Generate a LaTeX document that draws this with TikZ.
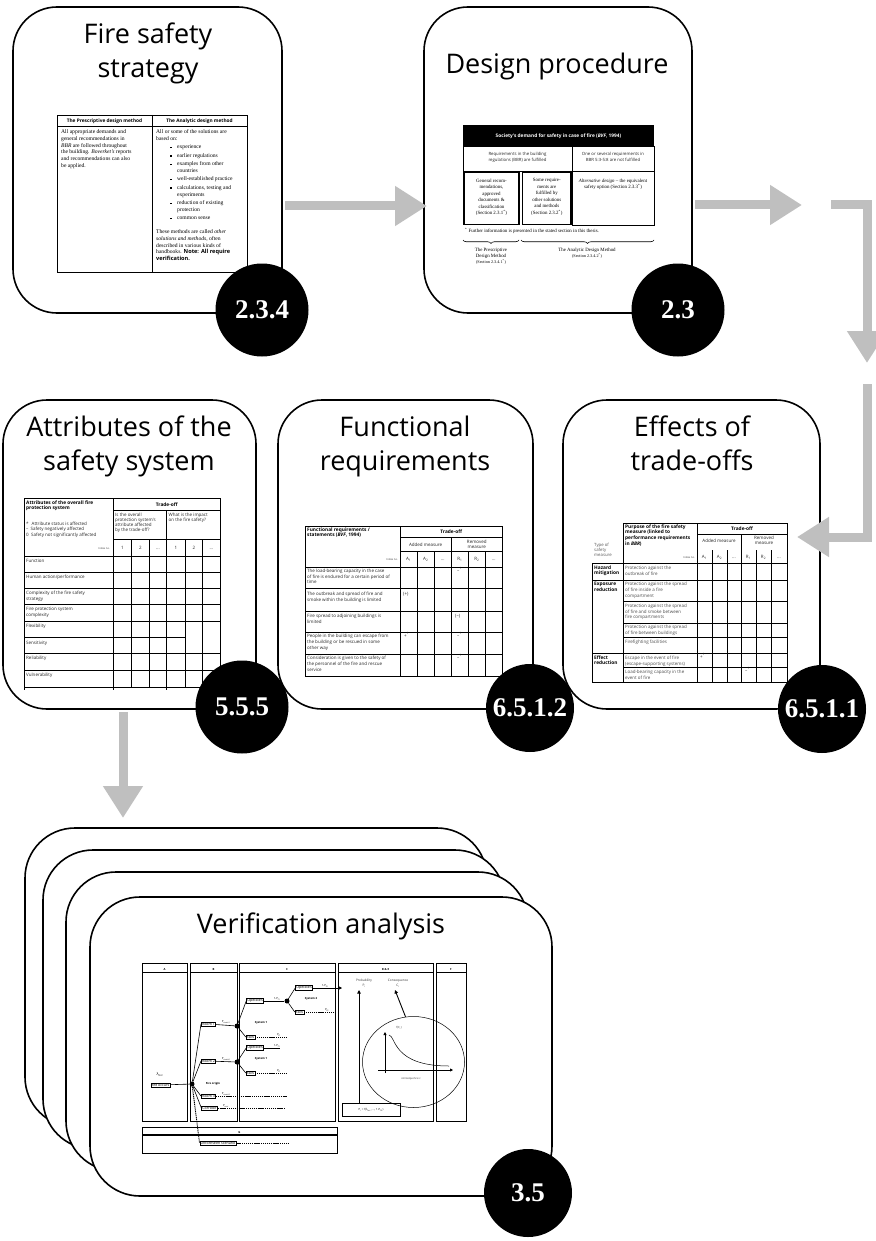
\documentclass[tikz,border=0pt]{standalone}
\usepackage{fontspec}
\setmainfont{Liberation Serif}
\setsansfont{Open Sans}
\usetikzlibrary{arrows.meta,decorations.pathreplacing,shapes.geometric}
\newcommand{\zzTitle}{\sffamily\fontsize{27}{32}\selectfont}
\newcommand{\zzBadge}{\rmfamily\bfseries\fontsize{27}{30}\selectfont}
\newcommand{\zzSer}{\rmfamily\fontsize{5.6}{6.8}\selectfont}
\newcommand{\zzSerS}{\rmfamily\fontsize{4.9}{6.5}\selectfont}
\newcommand{\zzHd}{\sffamily\bfseries\fontsize{4.8}{5.5}\selectfont}
\newcommand{\zzTx}{\sffamily\fontsize{4.5}{5.9}\selectfont}
\newcommand{\zzTi}{\sffamily\fontsize{2.6}{3}\selectfont}
\newcommand{\zzEv}{\sffamily\fontsize{3.6}{4}\selectfont}
\newcommand{\zzEl}{\sffamily\fontsize{2.8}{3.2}\selectfont}
\newcommand{\zzBl}{\hspace*{14pt}\makebox[7pt][l]{\rule[0.6pt]{1.3pt}{1.3pt}}}
\newcommand{\zzIn}{\hspace*{21pt}}
\begin{document}
\begin{tikzpicture}[x=1pt,y=-1pt,
  box/.style={draw, line width=1.6pt, fill=white, rounded corners=44pt, inner sep=0pt, outer sep=0pt, anchor=north west},
  vbox/.style={box, rounded corners=50pt, minimum width=462pt, minimum height=299pt},
  ttl/.style={inner sep=0pt, anchor=base, font=\zzTitle},
  badge/.style={circle, fill=black, text=white, inner sep=0pt, minimum size=90pt, font=\zzBadge},
  garrow/.style={line width=9pt, draw=black!25, line join=miter, -{Triangle[length=32pt,width=38pt]}},
  tl/.style={line width=0.5pt},
  tk/.style={line width=1.8pt},
  tx/.style={inner sep=0pt, anchor=base west, text=black!85, font=\zzTx},
  tc/.style={inner sep=0pt, anchor=base, text=black!85, font=\zzTx},
  th/.style={inner sep=0pt, anchor=base west, font=\zzHd},
  tn/.style={inner sep=0pt, anchor=base east, font=\zzTi, text=black!80},
  evb/.style={draw, line width=0.7pt, fill=white, inner sep=0.7pt, font=\zzEv},
  dot/.style={circle, fill=black, inner sep=0pt, minimum size=5pt},
  el/.style={line width=0.6pt},
  ed/.style={line width=0.9pt, dash pattern=on 1.2pt off 0.7pt},
  lb/.style={inner sep=0pt, anchor=base, font=\zzEl},
  brc/.style={line width=0.6pt, decorate, decoration={brace, amplitude=3.5pt, mirror}},
  vl/.style={line width=0.7pt}]
\useasboundingbox (0,0) rectangle (875,1241);

% ---------------- Row 1 boxes ----------------
\node[box, minimum width=269pt, minimum height=306pt] (b1) at (13,7) {};
\node[box, minimum width=268pt, minimum height=306pt] (b2) at (424,7) {};
\node[ttl] (b1t1) at (148,44) {Fire safety};
\node[ttl] (b1t2) at (148,78) {strategy};
\node[ttl] (b2t1) at (557,74) {Design procedure};

% Table 1
\draw[tl] (57,115) rectangle (247,272);
\draw[tl] (57,126) -- (247,126);
\draw[tl] (152,115) -- (152,272);
\node[inner sep=0pt, anchor=base, font=\zzHd] (t1h1) at (104.5,123) {The Prescriptive design method};
\node[inner sep=0pt, anchor=base, font=\zzHd] (t1h2) at (199.5,123) {The Analytic design method};
\node[inner sep=0pt, anchor=north west, align=left, font=\zzSer] (t1l) at (61,129.5) {All appropriate demands and\\ general recommendations in\\ \textit{BBR} are followed throughout\\ the building. \textit{Boverket's} reports\\ and recommendations can also\\ be applied.};
\node[inner sep=0pt, anchor=north west, align=left, font=\zzSer] (t1r) at (156,129.5) {All or some of the solutions are\\ based on:\\[1.6pt]
\zzBl experience\\[1.6pt]
\zzBl earlier regulations\\[1.6pt]
\zzBl examples from other\\
\zzIn countries\\[1.6pt]
\zzBl well-established practice\\[1.6pt]
\zzBl calculations, testing and\\
\zzIn experiments\\[1.6pt]
\zzBl reduction of existing\\
\zzIn protection\\[1.6pt]
\zzBl common sense\\[7pt]
These methods are called \textit{other}\\
\textit{solutions and methods}, often\\
described in various kinds of\\
handbooks. {\sffamily\bfseries Note: All require}\\
{\sffamily\bfseries verification.}};

% Table 2
\fill (463,125) rectangle (654,146);
\node[inner sep=0pt, anchor=base, text=white, font=\zzHd] (t2h) at (558.5,137.5) {Society's demand for safety in case of fire (\textit{BVF}, 1994)};
\draw[tl] (463,146) rectangle (654,171);
\draw[tl] (572,146) -- (572,171);
\node[inner sep=0pt, anchor=north, align=center, font=\sffamily\fontsize{4.3}{6.2}\selectfont, text=black!85] (t2a) at (517.5,152) {Requirements in the building\\ regulations (BBR) are fulfilled};
\node[inner sep=0pt, anchor=north, align=center, font=\sffamily\fontsize{4.3}{6.2}\selectfont, text=black!85] (t2b) at (613,152) {One or several requirements in\\ BBR 5:3-5:8 are not fulfilled};
\draw[tl] (572,171) rectangle (654,225);
\draw[tk] (464,172.5) rectangle (519,224.5);
\draw[tk] (522.5,172.5) rectangle (571,224.5);
\node[inner sep=0pt, anchor=north, align=center, font=\zzSerS] (t2c) at (491.5,178.5) {General recom-\\ mendations,\\ approved\\ documents \&\\ classification\\ (Section 2.3.1\textsuperscript{*})};
\node[inner sep=0pt, anchor=north, align=center, font=\zzSerS] (t2d) at (546.8,178.5) {Some require-\\ ments are\\ fulfilled by\\ other solutions\\ and methods\\ (Section 2.3.2\textsuperscript{*})};
\node[inner sep=0pt, anchor=north, align=center, font=\zzSerS] (t2e) at (613,178.5) {\textit{Alternative design} -- the equivalent\\ safety option (Section 2.3.3\textsuperscript{*})};
\node[inner sep=0pt, anchor=base west, font=\zzSerS] (t2f) at (465,233) {\textsuperscript{*} Further information is presented in the stated section in this thesis.};
\coordinate (br1a) at (463,240); \coordinate (br1b) at (519,240);
\coordinate (br2a) at (521,240); \coordinate (br2b) at (654,240);
\draw[brc] (br1a) -- (br1b);
\draw[brc] (br2a) -- (br2b);
\node[inner sep=0pt, anchor=north, align=center, font=\rmfamily\fontsize{4.9}{6}\selectfont] (t2g) at (491,248) {The Prescriptive\\ Design Method\\ {\fontsize{4.2}{6}\selectfont (Section 2.3.4.1\textsuperscript{*})}};
\node[inner sep=0pt, anchor=north, align=center, font=\rmfamily\fontsize{4.9}{6}\selectfont] (t2i) at (587,248) {The Analytic Design Method\\ {\fontsize{4.2}{6}\selectfont (Section 2.3.4.2\textsuperscript{*})}};

% ---------------- Row 2 boxes ----------------
\node[box, minimum width=253pt, minimum height=309pt] (b3) at (3,400) {};
\node[box, minimum width=255pt, minimum height=309pt] (b4) at (278,400) {};
\node[box, minimum width=257pt, minimum height=309pt] (b5) at (563,400) {};
\node[ttl] (b3t1) at (129,436) {Attributes of the};
\node[ttl] (b3t2) at (129,470) {safety system};
\node[ttl] (b4t1) at (405,436) {Functional};
\node[ttl] (b4t2) at (405,470) {requirements};
\node[ttl] (b5t1) at (692,436) {Effects of};
\node[ttl] (b5t2) at (692,470) {trade-offs};

% Attributes table
\draw[tl] (24,498) rectangle (220,687);
\draw[tl] (113.3,498) -- (113.3,690);
\draw[tl] (24,687) -- (24,690);
\draw[tl] (113.3,510) -- (220,510);
\draw[tl] (113.3,539) -- (220,539);
\draw[tl] (166.7,510) -- (166.7,690);
\foreach \yy in {556,572,588,604,621,653,670} \draw[tl] (24,\yy) -- (220,\yy);
\draw[tl] (24,637) -- (185,637);
\foreach \xx in {131.7,149.3,185,202.7} \draw[tl] (\xx,539) -- (\xx,687);
\node[th] (a1) at (26,504) {Attributes of the overall fire};
\node[th] (a2) at (26,509.5) {protection system};
\node[tx] (a3) at (26,525) {*\hspace{3pt}Attribute status is affected};
\node[tx] (a4) at (26,530.5) {--\hspace{2.2pt}Safety negatively affected};
\node[tx] (a5) at (26,536) {0\hspace{2.4pt}Safety not significantly affected};
\node[tn] (a6) at (110,549) {Index no.};
\node[inner sep=0pt, anchor=base, font=\zzHd] (a7) at (166.7,506) {Trade-off};
\node[inner sep=0pt, anchor=north west, align=left, font=\sffamily\fontsize{4.5}{4.9}\selectfont, text=black!85] (a8) at (115,513) {Is the overall\\ protection system's\\ attribute affected\\ by the trade-off?};
\node[inner sep=0pt, anchor=north west, align=left, font=\sffamily\fontsize{4.5}{4.9}\selectfont, text=black!85] (a9) at (168.5,513) {What is the impact\\ on the fire safety?};
\node[tc] (i1) at (122.5,549) {1};
\node[tc] (i2) at (140.5,549) {2};
\node[tc] (i3) at (158,549) {...};
\node[tc] (i4) at (176,549) {1};
\node[tc] (i5) at (194,549) {2};
\node[tc] (i6) at (211.3,549) {...};
\node[tx] (r1) at (26,562) {Function};
\node[tx] (r2) at (26,578.5) {Human action/performance};
\node[tx, anchor=north west, align=left] (r3) at (26,591) {Complexity of the fire safety\\ strategy};
\node[tx, anchor=north west, align=left] (r4) at (26,607) {Fire protection system\\ complexity};
\node[tx] (r5) at (26,627) {Flexibility};
\node[tx] (r6) at (26,644) {Sensitivity};
\node[tx] (r7) at (26,659.5) {Reliability};
\node[tx] (r8) at (26,676) {Vulnerability};

% Functional table
\draw[tl] (305,526) rectangle (502.3,676);
\draw[tl] (400,526) -- (400,676);
\draw[tl] (400,537) -- (502.3,537);
\draw[tl] (400,551) -- (502.3,551);
\draw[tl] (451.3,537) -- (451.3,676);
\foreach \yy in {567,588,611,632,654} \draw[tl] (305,\yy) -- (502.3,\yy);
\foreach \xx in {417.3,434.3,468.3,485.3} \draw[tl] (\xx,551) -- (\xx,676);
\node[th] (f1) at (307,531) {Functional requirements /};
\node[th] (f2) at (307,536.5) {statements (\textit{BVF}, 1994)};
\node[tn] (f3) at (398,560.5) {Index no.};
\node[inner sep=0pt, anchor=base, font=\zzHd] (f4) at (451.2,533.5) {Trade-off};
\node[tc] (f5) at (425.6,546) {Added measure};
\node[tc] (f6) at (476.8,543) {Removed};
\node[tc] (f7) at (476.8,548) {measure};
\node[tc] (fi1) at (408.6,560.5) {A\textsubscript{1}};
\node[tc] (fi2) at (425.8,560.5) {A\textsubscript{2}};
\node[tc] (fi3) at (442.8,560.5) {...};
\node[tc] (fi4) at (459.8,560.5) {R\textsubscript{1}};
\node[tc] (fi5) at (476.8,560.5) {R\textsubscript{2}};
\node[tc] (fi6) at (493.8,560.5) {...};
\node[tx, anchor=north west, align=left] (fr1) at (307,568.5) {The load-bearing capacity in the case\\ of fire is endured for a certain period of\\ time};
\node[tx, anchor=north west, align=left] (fr2) at (307,592) {The outbreak and spread of fire and\\ smoke within the building is limited};
\node[tx, anchor=north west, align=left] (fr3) at (307,614) {Fire spread to adjoining buildings is\\ limited};
\node[tx, anchor=north west, align=left] (fr4) at (307,634) {People in the building can escape from\\ the building or be rescued in some\\ other way};
\node[tx, anchor=north west, align=left] (fr5) at (307,656) {Consideration is given to the safety of\\ the personnel of the fire and rescue\\ service};
\node[tx] (fs1) at (457,572) {--\textsuperscript{1}};
\node[tx] (fs2) at (403,595) {(+)};
\node[tx] (fs3) at (455,617) {(--)};
\node[tx] (fs4) at (404,637) {+\textsuperscript{1}};
\node[tx] (fs5) at (457,637) {--\textsuperscript{1}};
\node[tx] (fs6) at (457,659) {--\textsuperscript{1}};

% Effects table
\draw[tl] (623,523) -- (787,523) -- (787,682) -- (592,682) -- (592,563) -- (787,563);
\draw[tl] (623,523) -- (623,682);
\draw[tl] (697,523) -- (697,682);
\draw[tl] (697,534) -- (787,534);
\draw[tl] (741,534) -- (741,682);
\foreach \xx in {712,727,756,771} \draw[tl] (\xx,550) -- (\xx,682);
\draw[tl] (592,580) -- (787,580);
\draw[tl] (592,653) -- (787,653);
\foreach \yy in {601,623,637,667} \draw[tl] (623,\yy) -- (787,\yy);
\node[th, anchor=north west, align=left, font=\sffamily\bfseries\fontsize{4.8}{5.6}\selectfont] (e1) at (625,524.5) {Purpose of the fire safety\\ measure (linked to\\ performance requirements\\ in \textit{BBR})};
\node[tn] (e2) at (695,558) {Index no.};
\node[inner sep=0pt, anchor=base, font=\zzHd] (e3) at (742,530.5) {Trade-off};
\node[tc] (e4) at (719,542.5) {Added measure};
\node[tc] (e5) at (764,539.5) {Removed};
\node[tc] (e6) at (764,544.5) {measure};
\node[tc] (ei1) at (704.5,558) {A\textsubscript{1}};
\node[tc] (ei2) at (719.5,558) {A\textsubscript{2}};
\node[tc] (ei3) at (734,558) {...};
\node[tc] (ei4) at (748.5,558) {R\textsubscript{1}};
\node[tc] (ei5) at (763.5,558) {R\textsubscript{2}};
\node[tc] (ei6) at (779,558) {...};
\node[tx, anchor=north west, align=left, text=black!65, font=\sffamily\fontsize{4.3}{5}\selectfont] (e7) at (594,543.5) {Type of\\ safety\\ measure};
\node[th, anchor=north west, align=left] (e8) at (594,565.5) {Hazard\\ mitigation};
\node[th, anchor=north west, align=left] (e9) at (594,582) {Exposure\\ reduction};
\node[th, anchor=north west, align=left] (e10) at (594,655.5) {Effect\\ reduction};
\node[tx, anchor=north west, align=left, text=black!70] (ep1) at (625,565.5) {Protection against the\\ outbreak of fire};
\node[tx, anchor=north west, align=left, text=black!70] (ep2) at (625,582) {Protection against the spread\\ of fire inside a fire\\ compartment};
\node[tx, anchor=north west, align=left, text=black!70] (ep3) at (625,603.5) {Protection against the spread\\ of fire and smoke between\\ fire compartments};
\node[tx, anchor=north west, align=left, text=black!70] (ep4) at (625,625) {Protection against the spread\\ of fire between buildings};
\node[tx, anchor=north west, align=left, text=black!70] (ep5) at (625,639.5) {Firefighting facilities};
\node[tx, anchor=north west, align=left, text=black!70] (ep6) at (625,655.5) {Escape in the event of fire\\ (escape-supporting systems)};
\node[tx, anchor=north west, align=left, text=black!70] (ep7) at (625,669.5) {Load-bearing capacity in the\\ event of fire};
\node[tx] (es1) at (700,658) {+\textsuperscript{1}};
\node[tx] (es2) at (745,672) {--\textsuperscript{1}};

% ---------------- Verification stack ----------------
\node[vbox] (v1) at (25,828) {};
\node[vbox] (v2) at (43,850) {};
\node[vbox] (v3) at (66,872) {};
\node[vbox] (v4) at (90,897) {};
\node[ttl] (v4t) at (321,933) {Verification analysis};

% panels
\draw[vl] (142,963) rectangle (187,1121); \draw[vl] (142,972) -- (187,972);
\draw[vl] (190,963) rectangle (237,1121); \draw[vl] (190,972) -- (237,972);
\draw[vl] (239,963) rectangle (335,1121); \draw[vl] (239,972) -- (335,972);
\draw[vl] (338,963) rectangle (433,1121); \draw[vl] (338,972) -- (433,972);
\draw[vl] (436,963) rectangle (466,1121); \draw[vl] (436,972) -- (466,972);
\draw[vl] (142,1127) rectangle (337,1153); \draw[line width=1.2pt] (142,1135) -- (337,1135);
\node[lb, font=\sffamily\bfseries\fontsize{2.8}{3}\selectfont] (pA) at (164.5,970) {A};
\node[lb, font=\sffamily\bfseries\fontsize{2.8}{3}\selectfont] (pB) at (213.5,970) {B};
\node[lb, font=\sffamily\bfseries\fontsize{2.8}{3}\selectfont] (pC) at (287,970) {C};
\node[lb, font=\sffamily\bfseries\fontsize{2.8}{3}\selectfont] (pD) at (385.5,970) {D \& E};
\node[lb, font=\sffamily\bfseries\fontsize{2.8}{3}\selectfont] (pF) at (451,970) {F};
\node[lb, font=\sffamily\bfseries\fontsize{2.8}{3}\selectfont] (pG) at (239.5,1133) {G};

% event tree
\node[evb] (fo) at (160.5,1085) {fire occurs};
\node[lb, font=\sffamily\fontsize{4}{4}\selectfont] (lam) at (160,1075) {λ\textsubscript{occ}};
\node[dot] (n0) at (192,1084) {};
\node[evb] (ro1) at (208.5,1024) {Room 1};
\node[evb] (ro2) at (208.5,1061) {Room 2};
\node[evb] (ro3) at (208.5,1096) {Room 3};
\node[evb] (co) at (209.5,1108) {Corridor};
\node[evb] (us) at (218,1143) {Unforeseen scenario};
\node[dot] (n1) at (237,1026) {};
\node[dot] (n3) at (237,1062) {};
\node[evb] (op1) at (255,1001) {Operates};
\node[evb] (fa1) at (250.5,1037) {Fails};
\node[evb] (op3) at (255,1048) {Operates};
\node[evb] (fa3) at (250.5,1073) {Fails};
\node[dot] (n2) at (287,1001) {};
\node[evb] (op2) at (304,988) {Operates};
\node[evb] (fa2) at (299.5,1012) {Fails};
\coordinate (e1e) at (342,988);
\coordinate (e2e) at (335,1012);
\coordinate (e3e) at (287,1037);
\coordinate (e4e) at (280,1048);
\coordinate (e5e) at (287,1073);
\coordinate (e6e) at (287,1096);
\coordinate (e7e) at (285,1108);
\coordinate (e8e) at (289,1143);
\draw[el] (fo) -- (n0);
\draw[el] (n0) -- (ro1.west);
\draw[el] (n0) -- (ro2.west);
\draw[el] (n0) -- (ro3.west);
\draw[el] (n0) -- (co.west);
\draw[ed] (n0) -- (us.west);
\draw[el] (ro1) -- (n1);
\draw[el] (ro2) -- (n3);
\draw[el] (n1) -- (op1.west);
\draw[el] (n1) -- (fa1.west);
\draw[el] (n3) -- (op3.west);
\draw[el] (n3) -- (fa3.west);
\draw[el] (op1) -- (n2);
\draw[el] (n2) -- (op2.west);
\draw[el] (n2) -- (fa2.west);
\draw[el, -{Triangle[length=4pt,width=4pt]}] (op2) -- (e1e);
\draw[ed] (fa2) -- (e2e);
\draw[ed] (fa1) -- (e3e);
\draw[el] (op3) -- (e4e);
\draw[ed] (fa3) -- (e5e);
\draw[ed] (ro3) -- (e6e);
\draw[ed] (co) -- (e7e);
\draw[ed] (us) -- (e8e);
\node[lb] (l1) at (226,1022) {P\textsubscript{room1}};
\node[lb] (l2) at (226,1059) {P\textsubscript{room2}};
\node[lb] (l3) at (226,1094) {P\textsubscript{room3}};
\node[lb] (l4) at (226,1106) {P\textsubscript{corr}};
\node[lb] (l5) at (277,999) {1-P\textsubscript{f1}};
\node[lb] (l6) at (277,1046) {1-P\textsubscript{f1}};
\node[lb] (l7) at (279,1035) {P\textsubscript{f1}};
\node[lb] (l8) at (279,1071) {P\textsubscript{f1}};
\node[lb] (l9) at (325,986) {1-P\textsubscript{f2}};
\node[lb] (l10) at (327,1010) {P\textsubscript{f2}};
\node[lb, font=\sffamily\bfseries\fontsize{2.8}{3}\selectfont] (s2) at (311,999) {System 2};
\node[lb, font=\sffamily\bfseries\fontsize{2.8}{3}\selectfont] (s1a) at (261,1023) {System 1};
\node[lb, font=\sffamily\bfseries\fontsize{2.8}{3}\selectfont] (s1b) at (261,1059) {System 1};
\node[lb, font=\sffamily\bfseries\fontsize{2.8}{3}\selectfont] (fog) at (213,1084) {Fire origin};

% D & E
\node[lb, font=\sffamily\fontsize{3.2}{3.5}\selectfont, text=black!80] (pr1) at (364,981) {Probability};
\node[lb, font=\sffamily\fontsize{3.2}{3.5}\selectfont, text=black!80] (pr2) at (364,986.5) {P\textsubscript{i}};
\node[lb, font=\sffamily\fontsize{3.2}{3.5}\selectfont, text=black!80] (cq1) at (398,981) {Consequence};
\node[lb, font=\sffamily\fontsize{3.2}{3.5}\selectfont, text=black!80] (cq2) at (398,986.5) {C\textsubscript{i}};
\node[draw, line width=0.5pt, minimum width=58pt, minimum height=13pt, inner sep=0pt, font=\zzEl] (fm) at (371,1110) {P\textsubscript{i} = f(λ\textsubscript{occ}, ..., 1-P\textsubscript{f2})};
\coordinate (pbot) at (359,1103);
\coordinate (ptop) at (359,990);
\draw[line width=0.9pt, -{Triangle[length=3.5pt,width=3.5pt]}] (pbot) -- (ptop);
\node[draw, ellipse, line width=0.5pt, minimum width=102pt, minimum height=91pt, inner sep=0pt] (ell) at (413.5,1062) {};
\coordinate (ctop) at (395,990);
\draw[line width=0.9pt, -{Triangle[length=3.5pt,width=3.5pt]}] (ell.100) -- (ctop);
\coordinate (ax0) at (385,1073);
\coordinate (ax1) at (385,1032);
\coordinate (ax2) at (378,1070);
\coordinate (ax3) at (453,1070);
\draw[line width=1pt, -{Triangle[length=3pt,width=3pt]}] (ax0) -- (ax1);
\draw[line width=1pt, -{Triangle[length=3pt,width=3pt]}] (ax2) -- (ax3);
\draw[line width=0.5pt] (389,1035) .. controls (396,1036) and (392,1066) .. (449,1066);
\node[lb, text=black!80] (fc) at (399,1028.5) {f(C\textsubscript{i})};
\node[lb, text=black!80] (cc) at (411,1079) {consequence c};

% ---------------- Grey arrows ----------------
\coordinate (g1s) at (285,206); \coordinate (g1e) at (427,206);
\coordinate (g2s) at (695,205); \coordinate (g2e) at (802,205);
\coordinate (g3s) at (831,205); \coordinate (g3m) at (867,205); \coordinate (g3e) at (867,363);
\coordinate (g4s) at (867,384); \coordinate (g4m) at (867,537); \coordinate (g4e) at (797,537);
\coordinate (g5s) at (123,712); \coordinate (g5e) at (123,818);
\draw[garrow] (g1s) -- (g1e);
\draw[garrow] (g2s) -- (g2e);
\draw[garrow] (g3s) -- (g3m) -- (g3e);
\draw[garrow] (g4s) -- (g4m) -- (g4e);
\draw[garrow] (g5s) -- (g5e);

% ---------------- Badges ----------------
\node[badge, minimum size=93pt] (c1) at (262,310) {2.3.4};
\node[badge, minimum size=93pt] (c2) at (678,310) {2.3};
\node[badge, minimum size=93pt] (c3) at (242,707) {5.5.5};
\node[badge, minimum size=88pt] (c4) at (530,708) {6.5.1.2};
\node[badge, minimum size=88pt] (c5) at (822,709) {6.5.1.1};
\node[badge, minimum size=88pt] (c6) at (528,1193) {3.5};
\end{tikzpicture}
\end{document}
